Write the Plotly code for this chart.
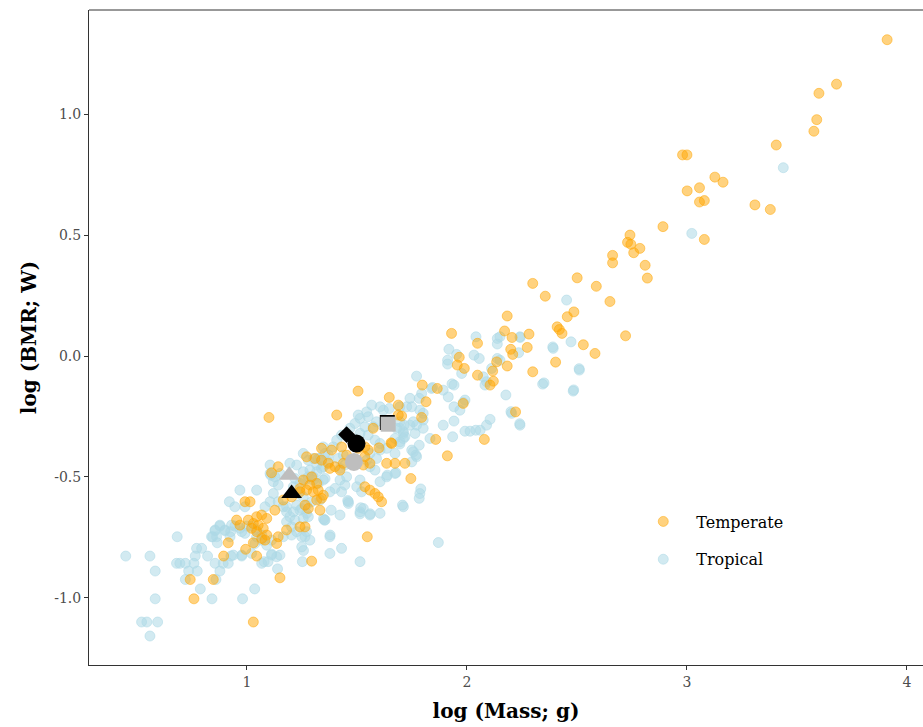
import plotly.graph_objects as go

# ---------------- data (log Mass, log BMR) ----------------
temperate_mass = [
    3.910, 3.680, 3.600, 3.590, 3.577, 3.406, 2.980, 3.000, 3.127, 3.164,
    3.057, 3.001, 3.057, 3.079, 3.309, 3.379, 3.079, 2.891,
    2.730, 2.745, 2.758, 2.741, 2.786, 2.810, 2.820, 2.662, 2.662,
    2.501, 2.299, 2.356, 2.588, 2.650, 2.183, 2.486, 2.456, 2.410, 2.420,
    2.432, 2.171, 2.205, 2.282, 2.274, 2.199, 2.208, 2.529, 2.582, 2.721,
    2.403, 2.183, 2.299,
    1.930, 2.048, 1.965, 1.956, 1.988, 2.135, 2.048, 2.120, 2.105, 2.117,
    1.797, 1.865, 1.814, 1.647, 1.688, 1.703, 1.794, 1.983, 2.221, 2.079,
    1.858,
    1.911, 1.745, 1.718, 1.673, 1.635, 1.655, 1.408, 1.688, 1.574, 1.658,
    1.536, 1.551, 1.600, 1.339, 1.385, 1.430, 1.271, 1.309, 1.339, 1.370,
    1.400, 1.423, 1.536, 1.529, 1.536, 1.559, 1.582, 1.597, 1.612, 1.256,
    1.286, 1.301, 1.324, 1.347, 1.317, 1.332, 1.279, 1.203, 1.165, 1.505,
    1.100, 1.506, 1.559, 1.453, 1.438, 1.377, 1.241, 1.339, 1.547, 1.294,
    1.294, 1.317, 1.264, 1.142, 1.112, 1.241, 1.271,
    0.915, 0.894, 0.847, 0.742, 0.759, 0.994, 1.029, 1.044, 1.029, 1.150,
    0.991, 1.014, 1.127, 1.044, 1.067, 1.090, 0.953, 0.968, 1.006, 1.029,
    1.051, 1.021, 1.044, 1.074, 1.090, 1.067, 1.082, 1.142, 1.135, 1.180,
    1.264, 1.241,
]
temperate_bmr = [
    1.310, 1.126, 1.088, 0.979, 0.931, 0.874, 0.833, 0.833, 0.741, 0.720,
    0.697, 0.684, 0.638, 0.644, 0.626, 0.607, 0.483, 0.536,
    0.471, 0.463, 0.428, 0.501, 0.446, 0.376, 0.323, 0.417, 0.386,
    0.324, 0.301, 0.248, 0.289, 0.226, 0.166, 0.183, 0.163, 0.121, 0.110,
    0.094, 0.104, 0.077, 0.091, 0.036, 0.028, 0.007, 0.047, 0.011, 0.084,
    -0.025, -0.041, -0.065,
    0.094, 0.053, -0.005, -0.037, -0.051, -0.024, -0.079, -0.104, -0.120, -0.062,
    -0.120, -0.134, -0.189, -0.171, -0.203, -0.248, -0.254, -0.196, -0.231, -0.345,
    -0.345,
    -0.413, -0.507, -0.444, -0.444, -0.444, -0.359, -0.244, -0.244, -0.299, -0.362,
    -0.376, -0.389, -0.380, -0.382, -0.389, -0.376, -0.417, -0.424, -0.431, -0.444,
    -0.458, -0.472, -0.417, -0.451, -0.541, -0.555, -0.569, -0.583, -0.603, -0.513,
    -0.534, -0.562, -0.555, -0.576, -0.596, -0.638, -0.631, -0.583, -0.596, -0.145,
    -0.254, -0.382, -0.444, -0.410, -0.444, -0.465, -0.548, -0.589, -0.748, -0.849,
    -0.500, -0.527, -0.617, -0.458, -0.483, -0.562, -0.555,
    -0.773, -0.828, -0.925, -0.925, -1.005, -0.800, -0.773, -0.828, -1.101, -0.918,
    -0.603, -0.603, -0.638, -0.665, -0.658, -0.672, -0.679, -0.700, -0.679, -0.693,
    -0.700, -0.713, -0.727, -0.713, -0.741, -0.755, -0.762, -0.748, -0.776, -0.720,
    -0.707, -0.707,
]

tropical_mass = [
    3.438, 3.022, 2.453, 2.392, 2.473, 2.511, 2.483, 2.344, 2.150, 2.242,
    2.235, 2.150, 2.510, 2.485, 2.350, 2.390,
    2.041, 2.138, 2.138, 2.241, 2.032, 2.056, 2.138, 1.918, 1.912, 1.912,
    1.953, 1.976, 2.074, 2.089, 2.082, 2.112, 2.177, 1.771, 1.941, 1.839,
    1.892, 1.915, 1.794, 1.783, 1.741, 1.695, 1.726, 1.749, 1.786, 1.801,
    1.941, 1.968, 1.991, 1.941, 1.892, 1.756, 1.771, 1.801, 1.991, 2.014,
    2.089, 2.105, 2.241, 2.203, 1.935, 1.832, 1.695, 1.714, 1.647, 1.620,
    1.801, 1.695, 1.711, 1.844, 1.932, 1.983, 2.240, 2.200, 2.060, 2.040,
    1.783, 1.756, 1.768, 1.677, 1.638, 1.695, 1.711,
    1.567, 1.605, 1.514, 1.551, 1.589, 1.536, 1.574, 1.514, 1.551, 1.582,
    1.605, 1.680, 1.711, 1.741, 1.764, 1.673, 1.695, 1.718, 1.635, 1.673,
    1.605, 1.749, 1.771, 1.749, 1.559, 1.589, 1.544, 1.559, 1.582, 1.635,
    1.673, 1.605, 1.711, 1.605, 1.559, 1.461, 1.521, 1.499, 1.514, 1.445,
    1.423, 1.453, 1.423, 1.445, 1.415, 1.438, 1.392, 1.408, 1.430, 1.468,
    1.491, 1.506, 1.544, 1.332, 1.355, 1.370, 1.317, 1.347, 1.286, 1.301,
    1.264, 1.241, 1.218, 1.211, 1.233, 1.256, 1.294, 1.332, 1.377, 1.400,
    1.430, 1.180, 1.211, 1.241, 1.271,
    1.430, 1.377, 1.423, 1.461, 1.514, 1.529, 1.352, 1.783, 1.786, 1.870,
    1.165, 1.203, 1.249, 1.286, 1.377, 1.514, 1.257, 1.378, 1.348, 1.383,
    1.458, 1.514, 1.560, 1.517, 1.707, 1.790,
    0.771, 0.794, 0.839, 0.862, 0.855, 0.877, 0.923, 0.900, 0.930, 0.920,
    0.945, 0.968, 1.044, 0.991, 0.968, 0.991, 1.044, 1.067, 1.067, 1.090,
    1.112, 0.976, 0.938, 1.021, 1.105, 1.105, 1.127, 1.150, 1.120, 1.142,
    1.120, 1.105, 1.082, 1.142, 1.165, 1.180, 1.195, 1.180, 1.203, 1.226,
    1.271, 1.218, 1.256, 1.279, 1.226, 1.249, 1.271, 1.195, 1.226, 1.256,
    1.279, 1.301, 1.324, 1.339, 1.317, 1.355, 1.301, 1.324, 1.347, 1.355,
    1.264, 1.249, 1.112, 1.150, 1.347, 1.370, 1.256, 1.279, 1.108, 1.036,
    1.135,
    0.449, 0.559, 0.583, 0.583, 0.521, 0.545, 0.594, 0.559, 0.683, 0.680,
    0.695, 0.720, 0.720, 0.735, 0.774, 0.759, 0.765, 0.821, 0.788, 0.841,
    0.855, 0.877, 0.859, 0.892, 0.915, 0.865, 0.855, 0.877, 0.900, 0.945,
    0.927, 0.976, 0.980, 1.035, 0.926, 0.976, 0.999, 1.021, 1.044, 1.067,
    1.139, 1.096, 1.078, 1.112, 1.252, 0.844,
]
tropical_bmr = [
    0.780, 0.508, 0.232, 0.032, 0.059, -0.058, -0.145, -0.116, 0.080, 0.077,
    0.014, -0.017, -0.052, -0.140, -0.111, 0.038,
    0.080, 0.073, 0.050, 0.080, 0.004, -0.010, -0.010, 0.028, -0.017, -0.033,
    0.007, -0.072, -0.086, -0.106, -0.120, -0.051, -0.161, -0.083, -0.120, -0.134,
    -0.141, -0.169, -0.155, -0.175, -0.175, -0.210, -0.210, -0.210, -0.224, -0.237,
    -0.210, -0.224, -0.182, -0.269, -0.286, -0.272, -0.286, -0.299, -0.311, -0.311,
    -0.286, -0.262, -0.286, -0.237, -0.334, -0.341, -0.272, -0.286, -0.217, -0.224,
    -0.265, -0.299, -0.320, -0.130, -0.115, -0.192, -0.280, -0.230, -0.307, -0.307,
    -0.369, -0.396, -0.410, -0.483, -0.493, -0.364, -0.341,
    -0.203, -0.210, -0.258, -0.251, -0.272, -0.293, -0.293, -0.320, -0.327, -0.348,
    -0.362, -0.299, -0.313, -0.286, -0.320, -0.341, -0.355, -0.334, -0.382, -0.403,
    -0.389, -0.389, -0.417, -0.438, -0.403, -0.424, -0.431, -0.458, -0.472, -0.500,
    -0.486, -0.520, -0.624, -0.651, -0.658, -0.603, -0.562, -0.541, -0.513, -0.534,
    -0.513, -0.500, -0.465, -0.451, -0.424, -0.410, -0.376, -0.348, -0.327, -0.299,
    -0.279, -0.244, -0.231, -0.424, -0.403, -0.438, -0.451, -0.458, -0.472, -0.500,
    -0.513, -0.527, -0.507, -0.541, -0.569, -0.583, -0.603, -0.596, -0.562, -0.548,
    -0.562, -0.624, -0.645, -0.638, -0.651,
    -0.796, -0.748, -0.658, -0.610, -0.645, -0.631, -0.679, -0.589, -0.569, -0.772,
    -0.748, -0.741, -0.748, -0.762, -0.817, -0.851, -0.805, -0.741, -0.674, -0.638,
    -0.598, -0.653, -0.653, -0.628, -0.617, -0.550,
    -0.796, -0.796, -0.748, -0.748, -0.720, -0.700, -0.748, -0.720, -0.700, -0.603,
    -0.624, -0.555, -0.555, -0.624, -0.713, -0.734, -0.720, -0.741, -0.762, -0.783,
    -0.762, -0.824, -0.824, -0.817, -0.451, -0.486, -0.500, -0.486, -0.520, -0.534,
    -0.569, -0.603, -0.624, -0.603, -0.624, -0.645, -0.665, -0.686, -0.707, -0.727,
    -0.727, -0.679, -0.672, -0.665, -0.617, -0.631, -0.617, -0.444, -0.451, -0.479,
    -0.500, -0.424, -0.424, -0.465, -0.479, -0.507, -0.513, -0.527, -0.513, -0.679,
    -0.748, -0.790, -0.824, -0.824, -0.376, -0.410, -0.403, -0.431, -0.493, -0.776,
    -0.831,
    -0.828, -0.828, -0.890, -1.005, -1.101, -1.101, -1.101, -1.159, -0.748, -0.858,
    -0.858, -0.925, -0.858, -0.890, -0.890, -0.858, -0.828, -0.828, -0.964, -1.005,
    -0.858, -0.890, -0.925, -0.858, -0.858, -0.773, -0.723, -0.704, -0.723, -0.704,
    -0.828, -0.828, -1.005, -0.964, -0.727, -0.727, -0.704, -0.704, -0.748, -0.858,
    -0.881, -0.851, -0.851, -0.820, -0.851, -0.748,
]

# group means (black / grey symbols)
black_mass = [1.203, 1.498, 1.453, 1.638]
black_bmr = [-0.569, -0.362, -0.325, -0.275]
black_symbols = ["triangle-up", "circle", "diamond", "square"]
black_sizes = [18, 18, 13, 15]
grey_mass = [1.192, 1.486, 1.642]
grey_bmr = [-0.493, -0.438, -0.282]
grey_symbols = ["triangle-up", "circle", "square"]
grey_sizes = [18, 18, 15]

x_ticks = [1, 2, 3, 4]
x_tick_labels = ["1", "2", "3", "4"]
y_ticks = [-1.0, -0.5, 0.0, 0.5, 1.0]
y_tick_labels = ["-1.0", "-0.5", "0.0", "0.5", "1.0"]

FONT = "DejaVu Serif"
ORANGE = "rgba(255,165,0,0.5)"
BLUE = "rgba(173,216,230,0.55)"

fig = go.Figure()
fig.add_trace(go.Scatter(
    x=tropical_mass, y=tropical_bmr, mode="markers", name="Tropical",
    legendrank=2, legendgroup="b",
    marker=dict(size=10, color=BLUE, opacity=1, line=dict(color=BLUE, width=1)),
))
fig.add_trace(go.Scatter(
    x=temperate_mass, y=temperate_bmr, mode="markers", name="Temperate",
    legendrank=1, legendgroup="a",
    marker=dict(size=10, color=ORANGE, opacity=1, line=dict(color=ORANGE, width=1)),
))
fig.add_trace(go.Scatter(
    x=black_mass[2:3], y=black_bmr[2:3], mode="markers", showlegend=False,
    marker=dict(symbol=black_symbols[2], size=black_sizes[2], color="black",
                opacity=1, line=dict(width=0)),
))
fig.add_trace(go.Scatter(
    x=[black_mass[0], black_mass[1], black_mass[3]],
    y=[black_bmr[0], black_bmr[1], black_bmr[3]], mode="markers", showlegend=False,
    marker=dict(symbol=[black_symbols[0], black_symbols[1], black_symbols[3]],
                size=[black_sizes[0], black_sizes[1], black_sizes[3]],
                color="black", opacity=1, line=dict(width=0)),
))
fig.add_trace(go.Scatter(
    x=grey_mass, y=grey_bmr, mode="markers", showlegend=False,
    marker=dict(symbol=grey_symbols, size=grey_sizes, color="#BEBEBE",
                opacity=1, line=dict(width=0)),
))

axis_common = dict(
    showgrid=False, zeroline=False, showline=True, linecolor="#333333", linewidth=1,
    ticks="outside", ticklen=4, tickcolor="#333333", tickwidth=1,
    tickfont=dict(family=FONT, size=14, color="#4D4D4D"),
)
fig.update_xaxes(
    range=[0.282, 4.073], tickvals=x_ticks, ticktext=x_tick_labels,
    title=dict(text="<b>log (Mass; g)</b>", font=dict(family=FONT, size=20, color="black"), standoff=15),
    **axis_common,
)
fig.update_yaxes(
    range=[-1.279, 1.433], tickvals=y_ticks, ticktext=y_tick_labels,
    title=dict(text="<b>log (BMR; W)</b>", font=dict(family=FONT, size=20, color="black"), standoff=12),
    **axis_common,
)
fig.add_shape(type="line", xref="paper", yref="paper", x0=0, x1=1, y0=1, y1=1,
              line=dict(color="#333333", width=1))

fig.update_layout(
    width=923, height=727,
    margin=dict(l=89, r=0, t=10, b=62),
    paper_bgcolor="white", plot_bgcolor="white",
    font=dict(family=FONT, color="black"),
    legend=dict(
        x=0.649, y=0.245, xanchor="left", yanchor="top",
        bgcolor="rgba(0,0,0,0)", font=dict(family=FONT, size=16, color="black"),
        traceorder="grouped", tracegroupgap=14, itemwidth=56,
    ),
)
for ax in (fig.layout.xaxis, fig.layout.yaxis):
    ax.automargin = False

fig.write_html("out.html")
